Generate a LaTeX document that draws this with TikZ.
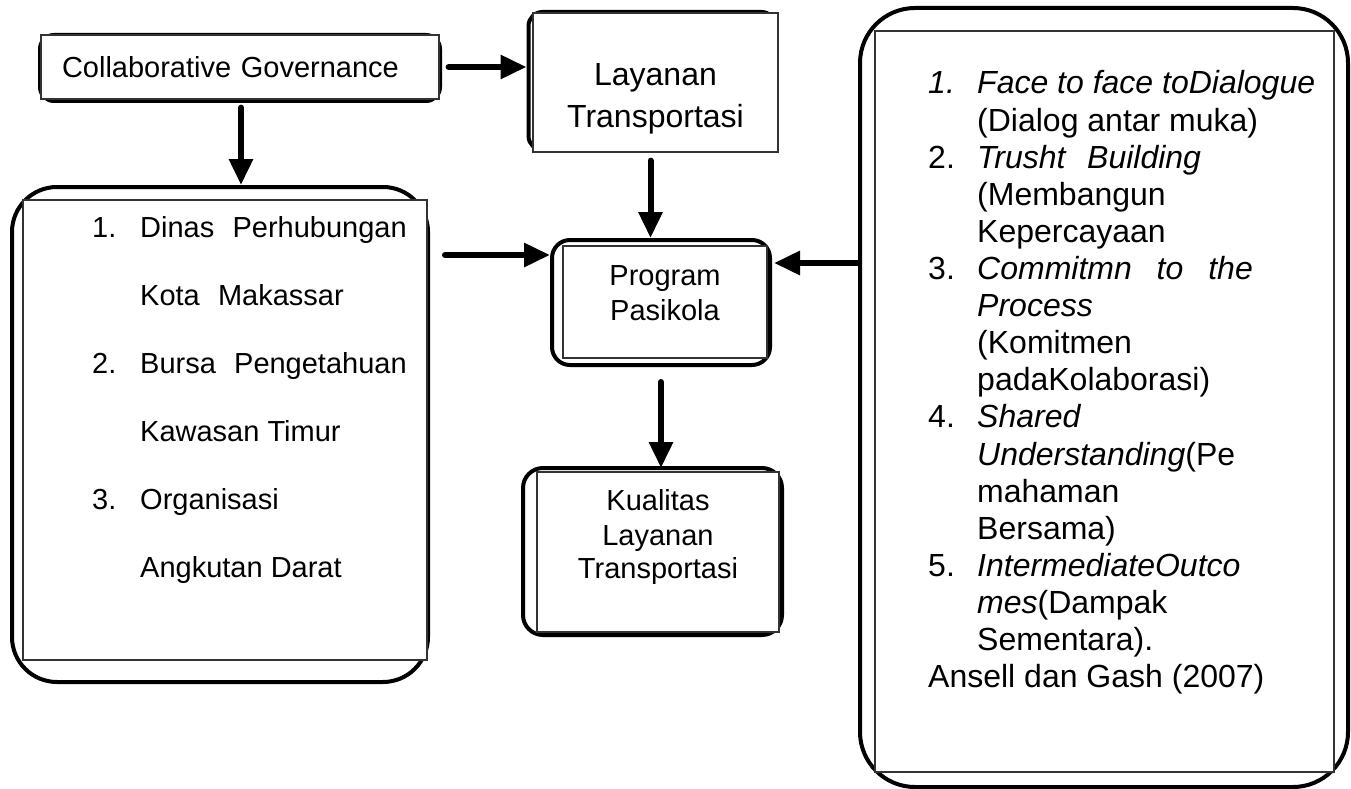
\documentclass[tikz,border=0pt]{standalone}
\usepackage{fontspec}
\setmainfont{Liberation Sans}
\usepackage{xcolor}
\usepackage{array}
\usetikzlibrary{positioning,arrows.meta}

\begin{document}
\begin{tikzpicture}[x=1pt, y=-1pt,
    every node/.style={font=\fontsize{29}{37.1}\selectfont, inner sep=0pt},
    frame/.style={draw, line width=4pt, rounded corners=#1},
    box/.style={draw=black!80, line width=1.2pt, fill=white},
    txt/.style={align=center},
    big/.style={font=\fontsize{32}{37.1}\selectfont},
    arr/.style={-{Triangle[length=26pt,width=23pt]}, line width=6pt, line cap=round}]

\useasboundingbox (0,0) rectangle (1351,789);

% Collaborative Governance
\node[frame=14pt, minimum width=400pt, minimum height=66pt] (cgframe) at (240,68) {};
\node[box, minimum width=398pt, minimum height=64pt, text width=356pt, inner xsep=21pt, align=left] (cg) at (240,67) {Collaborative Governance};

% Layanan Transportasi
\node[frame=14pt, minimum width=247pt, minimum height=138pt] (layframe) at (652,81) {};
\node[box, minimum width=245pt, minimum height=139pt] (lay) at (655.5,82.5) {};
\node[txt, big] (laytext) at ([yshift=-16]lay.center) {Layanan\\[5pt]Transportasi};

% Program Pasikola
\node[frame=18pt, minimum width=218pt, minimum height=125pt] (progframe) at (661,302.5) {};
\node[box, minimum width=204pt, minimum height=112pt] (prog) at (665,302) {};
\node[txt] (progtext) at ([yshift=9]prog.center) {Program\\[-2pt]Pasikola};

% Kualitas Layanan Transportasi
\node[frame=20pt, minimum width=259pt, minimum height=167pt] (kualframe) at (652.5,551.5) {};
\node[box, minimum width=242pt, minimum height=160pt] (kual) at (658,552) {};
\node[txt] (kualtext) at ([yshift=15]kual.center) {Kualitas\\[-3pt]Layanan\\[-4pt]Transportasi};

% daftar aktor
\node[frame=45pt, minimum width=416pt, minimum height=495pt] (dinasframe) at (220,434.5) {};
\node[box, minimum width=404pt, minimum height=460pt] (dinas) at (225,430) {};
\node[anchor=base west, font=\fontsize{29}{68}\selectfont] (dinastext) at (92,237) {%
  \begin{tabular}[t]{@{}p{48pt}@{}l@{}}
  1. & Dinas\hspace{0.35em} Perhubungan\\
     & Kota\hspace{0.35em} Makassar\\
  2. & Bursa\hspace{0.35em} Pengetahuan\\
     & Kawasan Timur\\
  3. & Organisasi\\
     & Angkutan Darat
  \end{tabular}};

% indikator Ansell dan Gash
\node[frame=55pt, minimum width=488pt, minimum height=779pt] (rightframe) at (1104,397.5) {};
\node[box, minimum width=459pt, minimum height=741pt] (right) at (1104.5,401.5) {};
\node[anchor=base west, big] (righttext) at (928,94) {%
  \begin{tabular}[t]{@{}p{49pt}@{}l@{}}
  \textit{1.} & \textit{Face to face toDialogue}\\
     & (Dialog antar muka)\\
  2. & \textit{Trusht\hspace{0.4em} Building}\\
     & (Membangun\\
     & Kepercayaan\\
  3. & \textit{Commitmn\hspace{0.5em} to\hspace{0.5em} the}\\
     & \textit{Process}\\
     & (Komitmen\\
     & padaKolaborasi)\\
  4. & \textit{Shared}\\
     & \textit{Understanding}(Pe\\
     & mahaman\\
     & Bersama)\\
  5. & \textit{IntermediateOutco}\\
     & \textit{mes}(Dampak\\
     & Sementara).\\
  \multicolumn{2}{@{}l@{}}{Ansell dan Gash (2007)}
  \end{tabular}};

% panah
\coordinate (inL) at ([yshift=-17]progframe.north west);
\coordinate (inR) at ([xshift=2,yshift=-25]progframe.north east);

\draw[arr] ([xshift=9]cg.east) -- (cg.east -| layframe.west);
\draw[arr] ([xshift=1,yshift=-8]cg.south) -- ([xshift=1]cg.south |- dinasframe.north);
\draw[arr] ([xshift=-5,yshift=-8]lay.south) -- ([xshift=-5]lay.south |- progframe.north);
\draw[arr, shorten <=15pt] (dinasframe.east |- inL) -- (inL);
\draw[arr] (rightframe.west |- inR) -- (inR);
\draw[arr] ([yshift=-15]progframe.south) -- ([yshift=-2]progframe.south |- kualframe.north);

\end{tikzpicture}
\end{document}
